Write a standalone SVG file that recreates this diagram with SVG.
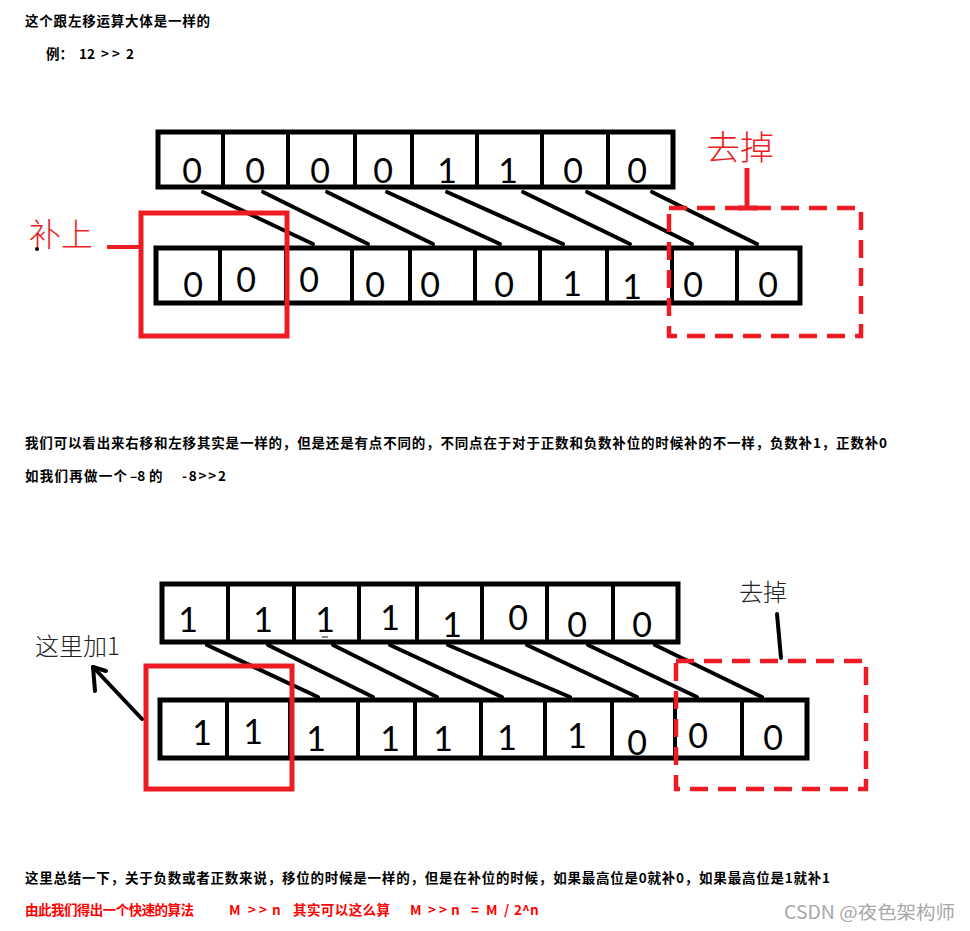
<svg xmlns="http://www.w3.org/2000/svg" width="970" height="931" viewBox="0 0 970 931">
<style>
.t{font-family:"Noto Sans CJK SC","Noto Sans",sans-serif;font-weight:bold;font-size:13.5px;fill:#000}
.r{fill:#ff0000}
.d{font-family:Lato,"DejaVu Sans",sans-serif;font-weight:400;font-size:34px;fill:#000;text-anchor:middle}
.frame{fill:#fff;stroke:#000;stroke-width:5}
.div{stroke:#000;stroke-width:4}
.conn line{stroke:#000;stroke-width:4;stroke-linecap:round}
.rb{fill:none;stroke:#ed1c24;stroke-width:5}
.rd{fill:none;stroke:#ed1c24;stroke-width:4.5;stroke-dasharray:18 10}
.lbl{font-family:"Noto Sans CJK SC",sans-serif;font-weight:300}
</style>
<rect width="970" height="931" fill="#fff"/>

<g id="texts-top">
<text class="t" x="25" y="26" textLength="185" lengthAdjust="spacing">这个跟左移运算大体是一样的</text>
<text class="t" y="59"><tspan x="46">例：</tspan><tspan x="79">12</tspan><tspan x="101">&gt;</tspan><tspan x="112">&gt;</tspan><tspan x="126">2</tspan></text>
</g>

<!-- Diagram 1 -->
<g id="d1-top">
<rect class="frame" x="158" y="132" width="515" height="55"/>
<line class="div" x1="223" y1="132" x2="223" y2="187"/>
<line class="div" x1="288" y1="132" x2="288" y2="187"/>
<line class="div" x1="355" y1="132" x2="355" y2="187"/>
<line class="div" x1="412" y1="132" x2="412" y2="187"/>
<line class="div" x1="477" y1="132" x2="477" y2="187"/>
<line class="div" x1="542" y1="132" x2="542" y2="187"/>
<line class="div" x1="608" y1="132" x2="608" y2="187"/>
<text class="d" x="192" y="183">0</text>
<text class="d" x="255" y="183">0</text>
<text class="d" x="320" y="183">0</text>
<text class="d" x="383" y="183">0</text>
<text class="d" x="447" y="183">1</text>
<text class="d" x="508" y="183">1</text>
<text class="d" x="573" y="183">0</text>
<text class="d" x="637" y="183">0</text>
</g>

<g id="d1-bottom">
<rect class="frame" x="156" y="248" width="644" height="55"/>
<line class="div" x1="220" y1="248" x2="220" y2="303"/>
<line class="div" x1="286" y1="248" x2="286" y2="303"/>
<line class="div" x1="352" y1="248" x2="352" y2="303"/>
<line class="div" x1="410" y1="248" x2="410" y2="303"/>
<line class="div" x1="475" y1="248" x2="475" y2="303"/>
<line class="div" x1="540" y1="248" x2="540" y2="303"/>
<line class="div" x1="607" y1="248" x2="607" y2="303"/>
<line class="div" x1="672" y1="248" x2="672" y2="303"/>
<line class="div" x1="737" y1="248" x2="737" y2="303"/>
<text class="d" x="193" y="297">0</text>
<text class="d" x="246" y="292">0</text>
<text class="d" x="309" y="292">0</text>
<text class="d" x="375" y="297">0</text>
<text class="d" x="430" y="297">0</text>
<text class="d" x="504" y="297">0</text>
<text class="d" x="572" y="296">1</text>
<text class="d" x="632" y="299">1</text>
<text class="d" x="693" y="297">0</text>
<text class="d" x="768" y="297">0</text>
</g>

<g id="d1-connectors" class="conn">
<line x1="203" y1="192" x2="313" y2="244"/>
<line x1="263" y1="192" x2="368" y2="244"/>
<line x1="327" y1="192" x2="433" y2="244"/>
<line x1="387" y1="192" x2="500" y2="244"/>
<line x1="447" y1="192" x2="563" y2="244"/>
<line x1="523" y1="192" x2="630" y2="244"/>
<line x1="587" y1="192" x2="692" y2="244"/>
<line x1="652" y1="192" x2="757" y2="244"/>
</g>

<g id="d1-fill-label">
<rect class="rb" x="141" y="213" width="146" height="123"/>
<line x1="107" y1="247" x2="139" y2="247" stroke="#ed1c24" stroke-width="4"/>
<text class="lbl" x="29" y="246" font-size="32" fill="#ed1c24">补上</text>
<circle cx="37" cy="249" r="2" fill="#000"/>
</g>

<g id="d1-drop-label">
<rect class="rd" x="669" y="208" width="192" height="128"/>
<line x1="747" y1="168" x2="747" y2="208" stroke="#ed1c24" stroke-width="5"/>
<line x1="738" y1="208" x2="757" y2="208" stroke="#ed1c24" stroke-width="5"/>
<text class="lbl" x="706" y="160" font-size="34" fill="#ed1c24">去掉</text>
</g>

<g id="texts-mid">
<text class="t" x="25" y="448" textLength="862" lengthAdjust="spacing">我们可以看出来右移和左移其实是一样的，但是还是有点不同的，不同点在于对于正数和负数补位的时候补的不一样，负数补1，正数补0</text>
<text class="t" y="481"><tspan x="25" textLength="102" lengthAdjust="spacing">如我们再做一个</tspan><tspan x="130">–8</tspan><tspan x="149">的</tspan><tspan x="182" textLength="44" lengthAdjust="spacing">-8&gt;&gt;2</tspan></text>
</g>

<!-- Diagram 2 -->
<g id="d2-top">
<rect class="frame" x="162" y="584" width="516" height="58"/>
<line class="div" x1="228" y1="584" x2="228" y2="642"/>
<line class="div" x1="294" y1="584" x2="294" y2="642"/>
<line class="div" x1="359" y1="584" x2="359" y2="642"/>
<line class="div" x1="417" y1="584" x2="417" y2="642"/>
<line class="div" x1="482" y1="584" x2="482" y2="642"/>
<line class="div" x1="547" y1="584" x2="547" y2="642"/>
<line class="div" x1="613" y1="584" x2="613" y2="642"/>
<text class="d" x="188" y="632">1</text>
<text class="d" x="263" y="632">1</text>
<text class="d" x="325" y="632">1</text>
<line x1="322" y1="637" x2="328" y2="637" stroke="#666" stroke-width="1.5"/>
<text class="d" x="390" y="630">1</text>
<text class="d" x="452" y="637">1</text>
<text class="d" x="518" y="630">0</text>
<text class="d" x="577" y="637">0</text>
<text class="d" x="642" y="637">0</text>
</g>

<g id="d2-bottom">
<rect class="frame" x="160" y="700" width="647" height="58"/>
<line class="div" x1="227" y1="700" x2="227" y2="758"/>
<line class="div" x1="290" y1="700" x2="290" y2="758"/>
<line class="div" x1="358" y1="700" x2="358" y2="758"/>
<line class="div" x1="415" y1="700" x2="415" y2="758"/>
<line class="div" x1="481" y1="700" x2="481" y2="758"/>
<line class="div" x1="545" y1="700" x2="545" y2="758"/>
<line class="div" x1="612" y1="700" x2="612" y2="758"/>
<line class="div" x1="675" y1="700" x2="675" y2="758"/>
<line class="div" x1="742" y1="700" x2="742" y2="758"/>
<text class="d" x="202" y="745">1</text>
<text class="d" x="253" y="744">1</text>
<text class="d" x="316" y="751">1</text>
<text class="d" x="390" y="751">1</text>
<text class="d" x="443" y="751">1</text>
<text class="d" x="507" y="750">1</text>
<text class="d" x="577" y="748">1</text>
<text class="d" x="637" y="755">0</text>
<text class="d" x="698" y="748">0</text>
<text class="d" x="773" y="750">0</text>
</g>

<g id="d2-connectors" class="conn">
<line x1="207" y1="645" x2="318" y2="697"/>
<line x1="268" y1="645" x2="373" y2="697"/>
<line x1="333" y1="645" x2="437" y2="697"/>
<line x1="390" y1="645" x2="502" y2="697"/>
<line x1="448" y1="645" x2="570" y2="697"/>
<line x1="527" y1="645" x2="637" y2="697"/>
<line x1="588" y1="645" x2="697" y2="697"/>
<line x1="655" y1="645" x2="762" y2="697"/>
</g>

<g id="d2-fill-label">
<rect class="rb" x="146" y="666" width="146" height="123"/>
<line x1="142" y1="719" x2="93" y2="667" stroke="#000" stroke-width="4" stroke-linecap="round"/>
<polyline points="95,691 93,667 106,671" fill="none" stroke="#000" stroke-width="4" stroke-linecap="round" stroke-linejoin="round"/>
<text class="lbl" x="35" y="655" font-size="24" font-weight="400" fill="#222">这里加1</text>
</g>

<g id="d2-drop-label">
<rect class="rd" x="676" y="661" width="190" height="128"/>
<line x1="777" y1="614" x2="781" y2="658" stroke="#000" stroke-width="4" stroke-linecap="round"/>
<text class="lbl" x="739" y="601" font-size="24" font-weight="400" fill="#222">去掉</text>
</g>

<g id="texts-bottom">
<text class="t" x="25" y="883" textLength="805" lengthAdjust="spacing">这里总结一下，关于负数或者正数来说，移位的时候是一样的，但是在补位的时候，如果最高位是0就补0，如果最高位是1就补1</text>
<text class="t r" y="915"><tspan x="25" textLength="169" lengthAdjust="spacing">由此我们得出一个快速的算法</tspan><tspan x="229">M</tspan><tspan x="248">&gt;</tspan><tspan x="259">&gt;</tspan><tspan x="272">n</tspan><tspan x="293" textLength="97" lengthAdjust="spacing">其实可以这么算</tspan><tspan x="410">M</tspan><tspan x="428">&gt;</tspan><tspan x="439">&gt;</tspan><tspan x="451">n</tspan><tspan x="471">=</tspan><tspan x="486">M</tspan><tspan x="504">/</tspan><tspan x="514">2^n</tspan></text>
<text x="784" y="919" font-family="'Noto Sans CJK SC',sans-serif" font-size="18" fill="#a8a8a8" textLength="171" lengthAdjust="spacingAndGlyphs">CSDN @夜色架构师</text>
</g>
</svg>
